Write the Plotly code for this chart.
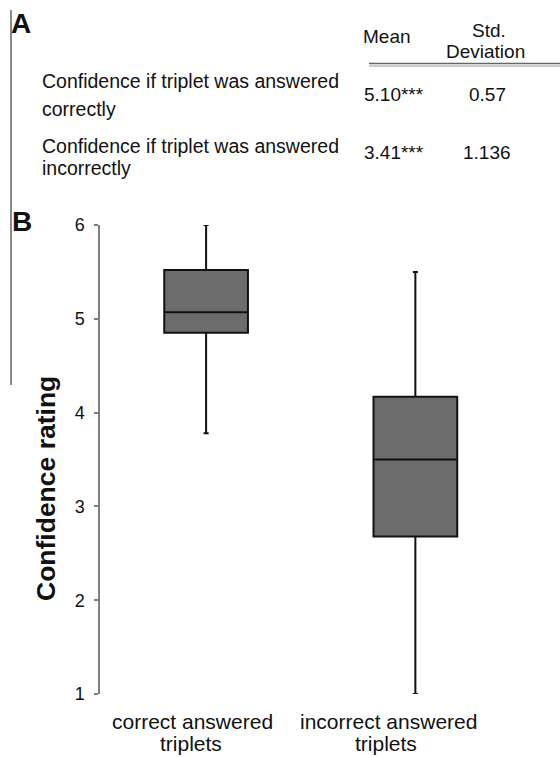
import plotly.graph_objects as go

# ---- data ----
categories = ["correct answered triplets", "incorrect answered triplets"]
cat_line1 = ["correct answered", "incorrect answered"]
cat_line2 = ["triplets", "triplets"]
lower_whisker = [3.78, 1.0]
q1_vals = [4.85, 2.68]
median_vals = [5.07, 3.50]
q3_vals = [5.52, 4.17]
upper_whisker = [6.0, 5.5]

y_ticks = [1, 2, 3, 4, 5, 6]

row_label_line1 = ["Confidence if triplet was answered", "Confidence if triplet was answered"]
row_label_line2 = ["correctly", "incorrectly"]
mean_vals = ["5.10***", "3.41***"]
sd_vals = ["0.57", "1.136"]

W, H = 560, 757
L, R, T, B = 100, 40, 225, 63
PW, PH = W - L - R, H - T - B

def px(x):
    return (x - L) / PW

def py(y):
    return (H - B - y) / PH

FONT = "Liberation Sans, Arial, sans-serif"
TXT = "#111111"

fig = go.Figure()
for i, c in enumerate(categories):
    fig.add_trace(go.Box(
        x=[i], q1=[q1_vals[i]], median=[median_vals[i]], q3=[q3_vals[i]],
        lowerfence=[lower_whisker[i]], upperfence=[upper_whisker[i]],
        width=0.4, whiskerwidth=0.06, boxpoints=False,
        fillcolor="#6c6c6c", line=dict(color="#111111", width=2),
        name=c, showlegend=False,
    ))

ann = []
def add(text, x, y, size=18, bold=False, xanchor="left", yanchor="middle", angle=0):
    ann.append(dict(text=f"<b>{text}</b>" if bold else text, x=px(x), y=py(y),
                    xref="paper", yref="paper", showarrow=False,
                    xanchor=xanchor, yanchor=yanchor, textangle=angle,
                    font=dict(family=FONT, size=size, color=TXT)))

# panel letters
add("A", 21, 23, size=28, bold=True, xanchor="center")
add("B", 22, 222, size=28, bold=True, xanchor="center")

# table header
add("Mean", 387, 37, size=19, xanchor="center")
add("Std.", 489, 30.5, size=19, xanchor="center")
add("Deviation", 485, 51, size=19, xanchor="center")

row_mid1 = [81, 146.5]
row_mid2 = [109, 168]
val_mid = [95, 152.5]
for i in range(2):
    add(row_label_line1[i], 40, row_mid1[i], size=19.5)
    add(row_label_line2[i], 40, row_mid2[i], size=19.5)
    add(mean_vals[i], 362, val_mid[i], size=19)
    add(sd_vals[i], 487, val_mid[i], size=19, xanchor="center")

# x category labels
lab_x1 = [192, 388]
lab_x2 = [191, 386]
for i in range(2):
    add(cat_line1[i], lab_x1[i], 721, size=21, xanchor="center")
    add(cat_line2[i], lab_x2[i], 743, size=21, xanchor="center")

# y-axis title
add("Confidence rating", 46, 489, size=26.5, bold=True, xanchor="center", angle=-90)

shapes = [
    dict(type="line", xref="paper", yref="paper", x0=px(11), x1=px(11), y0=py(10), y1=py(385),
         line=dict(color="#8a8a8a", width=2)),
    dict(type="line", xref="paper", yref="paper", x0=px(369), x1=px(560), y0=py(63.5), y1=py(63.5),
         line=dict(color="#666666", width=1.5)),
    dict(type="line", xref="paper", yref="paper", x0=px(369), x1=px(560), y0=py(66), y1=py(66),
         line=dict(color="#999999", width=1)),
]

fig.update_layout(
    width=W, height=H,
    margin=dict(l=L, r=R, t=T, b=B),
    paper_bgcolor="white", plot_bgcolor="white",
    annotations=ann, shapes=shapes,
    font=dict(family=FONT, color=TXT),
    xaxis=dict(range=[-0.507, 1.5], visible=False, fixedrange=True),
    yaxis=dict(range=[1, 6], tickvals=y_ticks, ticks="outside", ticklen=4,
               tickcolor="#808080", tickwidth=1.5, showline=True, linecolor="#808080",
               linewidth=1.5, showgrid=False, zeroline=False,
               tickfont=dict(family=FONT, size=18, color=TXT), ticklabelstandoff=6),
)

fig.write_html("out.html")
